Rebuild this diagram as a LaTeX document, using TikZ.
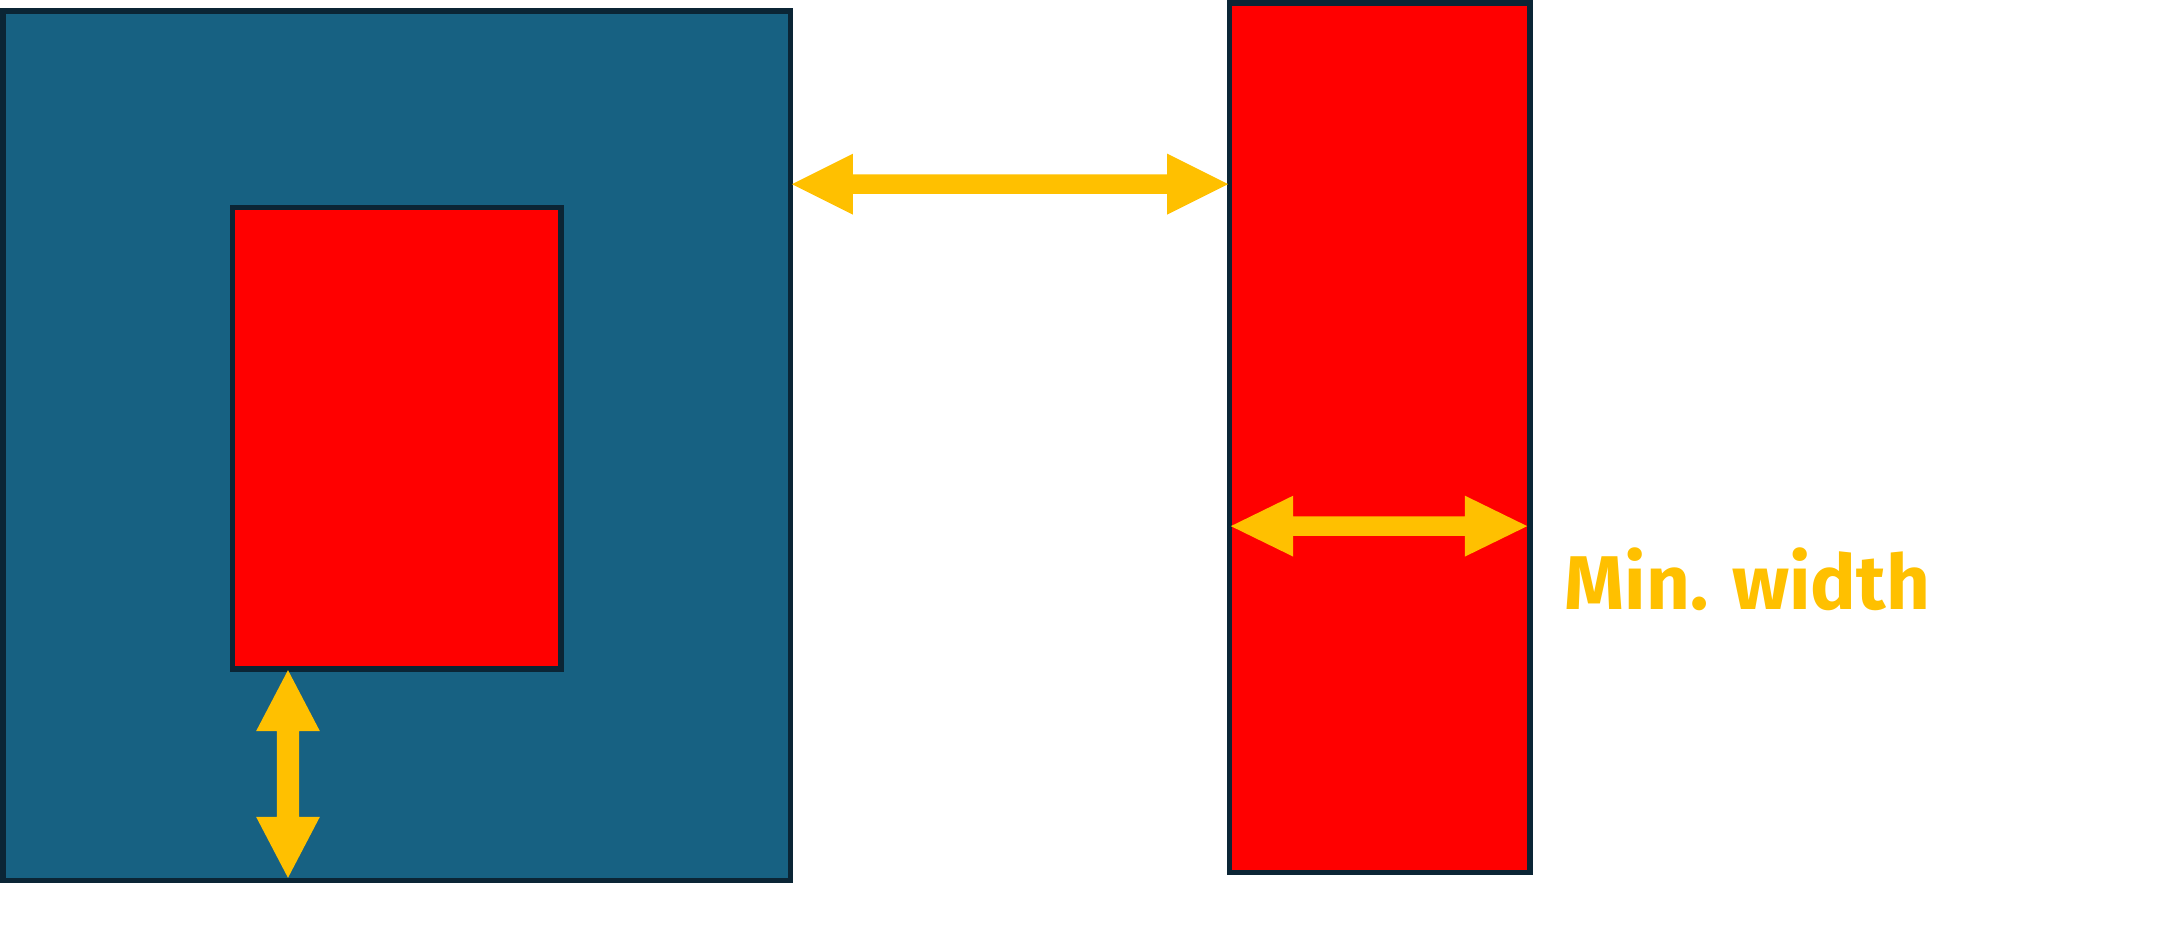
\documentclass[tikz,border=0pt]{standalone}
\usepackage{fontspec}
\setmainfont{Fira Sans}
\definecolor{blueF}{RGB}{23,97,130}
\definecolor{edgeC}{RGB}{11,37,53}
\definecolor{goldC}{RGB}{255,192,0}
\begin{document}
\begin{tikzpicture}[x=1pt,y=-1pt,
  box/.style={draw=edgeC,line width=4pt},
  fat/.style={fill=goldC}]
\useasboundingbox (0,0) rectangle (1568,682);
\draw[box,fill=blueF] (2,8) rectangle (571,636);
\draw[box,fill=red] (168,150) rectangle (405,483);
\draw[box,fill=red] (888,2) rectangle (1105,630);
% horizontal arrow top
\fill[fat] (572,133) -- (616,111) -- (616,126) -- (843,126) -- (843,111) -- (887,133) -- (843,155) -- (843,140) -- (616,140) -- (616,155) -- cycle;
% horizontal arrow in right box
\fill[fat] (889,380) -- (934,358) -- (934,373) -- (1058,373) -- (1058,358) -- (1103,380) -- (1058,402) -- (1058,387) -- (934,387) -- (934,402) -- cycle;
% vertical arrow
\fill[fat] (208,484) -- (231,528) -- (216,528) -- (216,590) -- (231,590) -- (208,634) -- (185,590) -- (200,590) -- (200,528) -- (185,528) -- cycle;
\node[anchor=base west,inner sep=0pt,text=goldC,font=\fontsize{55}{60}\selectfont\bfseries] (lbl) at (1130,440) {Min. width};
\end{tikzpicture}
\end{document}
